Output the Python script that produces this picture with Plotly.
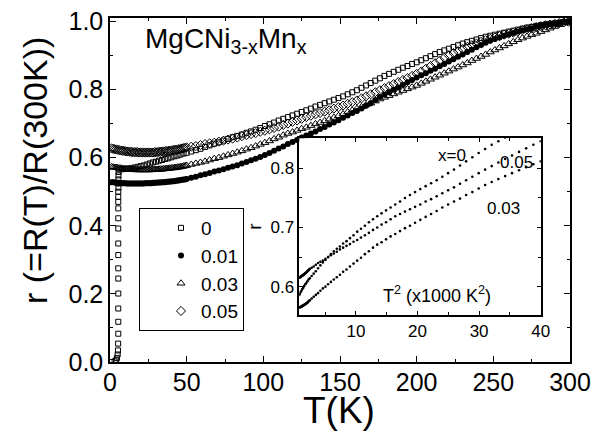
import plotly.graph_objects as go

# ---------------- data ----------------
# temperature grids of the measurements (K)
T_low = [1, 2, 3, 4, 5, 6, 7, 8, 9, 10, 11, 12, 13, 14, 15, 16, 17, 18, 19, 20, 21, 22, 23, 24,
         25, 26, 27, 28, 29, 30, 31, 32, 33, 34, 35, 36, 37, 38, 39, 40, 41, 42, 43, 44, 45, 46,
         47, 48, 49, 50]
T_x0_low = [6, 8, 10, 12, 14, 16, 18, 20, 22, 24, 26, 28, 30, 32, 34, 36, 38, 40, 42, 44, 46,
            48, 50]
T_high = [53, 56, 59, 62, 65, 68, 71, 74, 77, 80, 83, 86, 89, 92, 95, 98, 101, 104, 107, 110,
          113, 116, 119, 122, 125, 128, 131, 134, 137, 140, 143, 146, 149, 152, 155, 158, 161,
          164, 167, 170, 173, 176, 179, 182, 185, 188, 191, 194, 197, 200, 203, 206, 209, 212,
          215, 218, 221, 224, 227, 230, 233, 236, 239, 242, 245, 248, 251, 254, 257, 260, 263,
          266, 269, 272, 275, 278, 281, 284, 287, 290, 293, 296, 299]

# x = 0 : superconducting transition (T, r)
T_x0_sc = [1.0, 3.0, 4.0, 4.5, 5.0, 5.2, 5.3, 5.4, 5.4, 5.4, 5.4, 5.4, 5.4, 5.4, 5.4, 5.4,
           5.4, 5.4, 5.4, 5.4, 5.4, 5.5, 5.5, 5.5, 5.5, 5.6]
r_x0_sc = [0.0, 0.002, 0.005, 0.012, 0.022, 0.034, 0.054, 0.083, 0.118, 0.157, 0.201, 0.245,
           0.275, 0.314, 0.348, 0.392, 0.422, 0.451, 0.470, 0.485, 0.500, 0.512, 0.524, 0.536,
           0.548, 0.558]
# x = 0 : normal state, on T_x0_low + T_high
r_x0_low = [0.566, 0.566, 0.567, 0.568, 0.569, 0.571, 0.573, 0.575, 0.577, 0.580, 0.583,
            0.586, 0.588, 0.591, 0.593, 0.596, 0.598, 0.601, 0.604, 0.606, 0.609, 0.612, 0.614]
r_x0_high = [0.618, 0.622, 0.626, 0.631, 0.636, 0.641, 0.645, 0.650, 0.655, 0.660, 0.664, 0.668,
             0.673, 0.677, 0.682, 0.687, 0.693, 0.698, 0.703, 0.709, 0.714, 0.719, 0.724, 0.729,
             0.734, 0.739, 0.744, 0.750, 0.755, 0.760, 0.765, 0.770, 0.775, 0.780, 0.786, 0.792,
             0.798, 0.805, 0.812, 0.819, 0.826, 0.833, 0.840, 0.846, 0.852, 0.858, 0.864, 0.869,
             0.875, 0.880, 0.886, 0.892, 0.898, 0.904, 0.910, 0.915, 0.920, 0.925, 0.930, 0.935,
             0.939, 0.943, 0.947, 0.951, 0.955, 0.958, 0.961, 0.964, 0.967, 0.970, 0.973, 0.976,
             0.979, 0.982, 0.984, 0.987, 0.989, 0.991, 0.993, 0.994, 0.996, 0.998, 0.999]

# x = 0.01 (on T_low + T_high)
r_001_low = [0.528, 0.528, 0.527, 0.527, 0.526, 0.526, 0.525, 0.525, 0.525, 0.525, 0.524, 0.524,
             0.524, 0.524, 0.524, 0.524, 0.524, 0.524, 0.524, 0.524, 0.524, 0.524, 0.525, 0.525,
             0.525, 0.525, 0.525, 0.526, 0.526, 0.526, 0.527, 0.527, 0.527, 0.528, 0.528, 0.528,
             0.529, 0.529, 0.530, 0.530, 0.531, 0.531, 0.532, 0.533, 0.533, 0.534, 0.535, 0.536,
             0.536, 0.537]
r_001_high = [0.541, 0.544, 0.548, 0.551, 0.555, 0.559, 0.562, 0.566, 0.570, 0.574, 0.578, 0.583,
              0.587, 0.592, 0.597, 0.602, 0.608, 0.614, 0.620, 0.627, 0.633, 0.640, 0.646, 0.652,
              0.659, 0.665, 0.671, 0.677, 0.684, 0.690, 0.697, 0.703, 0.710, 0.717, 0.724, 0.731,
              0.737, 0.744, 0.752, 0.760, 0.769, 0.778, 0.785, 0.792, 0.799, 0.806, 0.813, 0.821,
              0.828, 0.835, 0.842, 0.848, 0.855, 0.861, 0.868, 0.875, 0.882, 0.889, 0.896, 0.903,
              0.910, 0.917, 0.924, 0.931, 0.937, 0.943, 0.948, 0.953, 0.958, 0.962, 0.966, 0.970,
              0.974, 0.977, 0.980, 0.984, 0.987, 0.990, 0.992, 0.994, 0.996, 0.998, 0.999]

# x = 0.03 (on T_low + T_high)
r_003_low = [0.573, 0.572, 0.571, 0.571, 0.570, 0.569, 0.569, 0.568, 0.567, 0.567, 0.566, 0.566,
             0.565, 0.565, 0.565, 0.565, 0.564, 0.564, 0.564, 0.564, 0.564, 0.564, 0.564, 0.564,
             0.564, 0.564, 0.564, 0.565, 0.565, 0.565, 0.565, 0.566, 0.566, 0.566, 0.567, 0.567,
             0.568, 0.568, 0.569, 0.569, 0.570, 0.570, 0.571, 0.572, 0.572, 0.573, 0.574, 0.575,
             0.576, 0.577]
r_003_high = [0.580, 0.583, 0.586, 0.589, 0.593, 0.597, 0.600, 0.604, 0.608, 0.612, 0.616, 0.620,
              0.625, 0.629, 0.634, 0.639, 0.644, 0.649, 0.655, 0.660, 0.666, 0.671, 0.675, 0.680,
              0.685, 0.689, 0.694, 0.699, 0.703, 0.708, 0.713, 0.718, 0.723, 0.728, 0.734, 0.739,
              0.744, 0.749, 0.755, 0.760, 0.766, 0.772, 0.777, 0.782, 0.787, 0.792, 0.797, 0.802,
              0.807, 0.812, 0.818, 0.824, 0.830, 0.836, 0.842, 0.848, 0.854, 0.860, 0.866, 0.872,
              0.878, 0.885, 0.891, 0.897, 0.903, 0.910, 0.916, 0.922, 0.928, 0.934, 0.940, 0.946,
              0.951, 0.956, 0.961, 0.965, 0.970, 0.975, 0.980, 0.985, 0.990, 0.995, 0.999]

# x = 0.05 (on T_low + T_high)
r_005_low = [0.627, 0.626, 0.625, 0.624, 0.623, 0.622, 0.621, 0.620, 0.620, 0.619, 0.618, 0.618,
             0.617, 0.617, 0.616, 0.616, 0.616, 0.616, 0.615, 0.615, 0.615, 0.615, 0.615, 0.615,
             0.615, 0.615, 0.615, 0.615, 0.616, 0.616, 0.616, 0.617, 0.617, 0.618, 0.618, 0.619,
             0.619, 0.620, 0.620, 0.621, 0.622, 0.623, 0.623, 0.624, 0.625, 0.626, 0.627, 0.628,
             0.629, 0.630]
r_005_high = [0.632, 0.634, 0.637, 0.640, 0.642, 0.644, 0.647, 0.650, 0.653, 0.656, 0.659, 0.663,
              0.666, 0.669, 0.672, 0.676, 0.679, 0.683, 0.687, 0.691, 0.696, 0.700, 0.705, 0.709,
              0.714, 0.719, 0.723, 0.727, 0.731, 0.735, 0.739, 0.744, 0.748, 0.753, 0.758, 0.763,
              0.768, 0.774, 0.780, 0.786, 0.792, 0.798, 0.804, 0.810, 0.816, 0.822, 0.828, 0.834,
              0.840, 0.846, 0.853, 0.861, 0.869, 0.877, 0.885, 0.893, 0.900, 0.907, 0.913, 0.919,
              0.925, 0.930, 0.935, 0.940, 0.945, 0.949, 0.953, 0.957, 0.961, 0.964, 0.967, 0.970,
              0.974, 0.977, 0.980, 0.983, 0.986, 0.989, 0.991, 0.993, 0.995, 0.997, 0.999]

series_names = ["0", "0.01", "0.03", "0.05"]
inset_T_min, inset_T_max = 28, 200   # temperature window shown in the inset

# ---------------- assemble ----------------
T_full = T_low + T_high
T_x0 = T_x0_sc + T_x0_low + T_high
r_x0 = r_x0_sc + r_x0_low + r_x0_high
r_001 = r_001_low + r_001_high
r_003 = r_003_low + r_003_high
r_005 = r_005_low + r_005_high

FONT = "Liberation Sans, Arial, sans-serif"
OFF = 8                                    # page body margin of the browser (px)
W, H = 602 - OFF, 434 - OFF
ML, MT = 110 - OFF, 18 - OFF               # plot area: x 110..570, y 18..362 on screen
PW, PH = 460, 344
MR, MB = W - ML - PW, H - MT - PH


def px(xp):      # screen pixel -> plot-area paper x
    return (xp - OFF - ML) / PW


def py(yp):      # screen pixel -> plot-area paper y
    return (MT + PH - (yp - OFF)) / PH


fig = go.Figure()

fig.add_trace(go.Scatter(x=T_x0, y=r_x0, mode="markers", name=series_names[0],
                         marker=dict(symbol="square-open", size=5, color="black",
                                     line=dict(width=1, color="black"))))
fig.add_trace(go.Scatter(x=T_full, y=r_001, mode="markers", name=series_names[1],
                         marker=dict(symbol="circle", size=6, color="black",
                                     line=dict(width=0))))
fig.add_trace(go.Scatter(x=T_full, y=r_003, mode="markers", name=series_names[2],
                         marker=dict(symbol="triangle-up-open", size=7, color="black",
                                     line=dict(width=1, color="black"))))
fig.add_trace(go.Scatter(x=T_full, y=r_005, mode="markers", name=series_names[3],
                         marker=dict(symbol="diamond-open", size=7, color="black",
                                     line=dict(width=1, color="black"))))


def inset_xy(T, r):
    xs, ys = [], []
    for t, v in zip(T, r):
        if inset_T_min <= t <= inset_T_max:
            xs.append(t * t / 1000.0)
            ys.append(v)
    return xs, ys


for T, r in [(T_x0, r_x0), (T_full, r_003), (T_full, r_005)]:
    xs, ys = inset_xy(T, r)
    fig.add_trace(go.Scatter(x=xs, y=ys, mode="markers", xaxis="x2", yaxis="y2",
                             showlegend=False, cliponaxis=True,
                             marker=dict(symbol="circle", size=2.6, color="black",
                                         line=dict(width=0))))

axis_common = dict(showline=True, linecolor="black", linewidth=1.5, mirror="ticks",
                   ticks="inside", tickcolor="black", tickwidth=1, showgrid=False,
                   zeroline=False, automargin=False, ticklabeloverflow="allow")

fig.update_layout(
    width=W, height=H,
    margin=dict(l=ML, r=MR, t=MT, b=MB),
    paper_bgcolor="white", plot_bgcolor="white",
    font=dict(family=FONT, color="black"),
    xaxis=dict(domain=[0, 1], range=[0, 300], dtick=50, ticklen=6,
               minor=dict(dtick=25, ticklen=3, ticks="inside", tickcolor="black"),
               tickfont=dict(size=25), ticklabelstandoff=-3, **axis_common),
    yaxis=dict(domain=[0, 1], range=[0, 1.01], dtick=0.2, tickformat=".1f",
               ticklen=6,
               minor=dict(dtick=0.1, ticklen=3, ticks="inside", tickcolor="black"),
               tickfont=dict(size=25), **axis_common),
    xaxis2=dict(domain=[px(299.3), px(540.7)], range=[0.8, 40], anchor="y2",
                tickvals=[10, 20, 30, 40], ticklen=4,
                minor=dict(dtick=5, ticklen=3, ticks="inside", tickcolor="black"),
                tickfont=dict(size=17), **axis_common),
    yaxis2=dict(domain=[py(315), py(138.3)], range=[0.552, 0.851], anchor="x2",
                tickvals=[0.6, 0.7, 0.8], tickformat=".1f", ticklen=4,
                minor=dict(dtick=0.05, ticklen=3, ticks="inside", tickcolor="black"),
                tickfont=dict(size=17),
                title=dict(text="r", font=dict(size=19), standoff=4),
                **axis_common),
    legend=dict(x=px(139), y=py(208), xanchor="left", yanchor="top",
                bordercolor="black", borderwidth=1, bgcolor="white",
                font=dict(size=19), tracegroupgap=0, indentation=21,
                entrywidth=52, entrywidthmode="pixels"),
    annotations=[
        dict(text="r (=R(T)/R(300K))", xref="paper", yref="paper", x=px(35), y=py(171),
             xanchor="center", yanchor="middle", textangle=-90, showarrow=False,
             font=dict(size=34)),
        dict(text="T(K)", xref="paper", yref="paper", x=px(339), y=py(410),
             xanchor="center", yanchor="middle", showarrow=False, font=dict(size=37)),
        dict(text="MgCNi<sub>3-x</sub>Mn<sub>x</sub>", xref="paper", yref="paper",
             x=px(143), y=py(40), xanchor="left", yanchor="middle",
             showarrow=False, font=dict(size=28)),
        dict(text="x=0", xref="x2", yref="y2", x=25.6, y=0.8225, showarrow=False,
             font=dict(size=17)),
        dict(text="0.05", xref="x2", yref="y2", x=36.0, y=0.8107, showarrow=False,
             font=dict(size=17)),
        dict(text="0.03", xref="x2", yref="y2", x=33.9, y=0.732, showarrow=False,
             font=dict(size=17)),
        dict(text="T<sup>2</sup> (x1000 K<sup>2</sup>)", xref="x2", yref="y2", x=23.1,
             y=0.587, showarrow=False, font=dict(size=18)),
    ],
)

fig.write_html("out.html")
